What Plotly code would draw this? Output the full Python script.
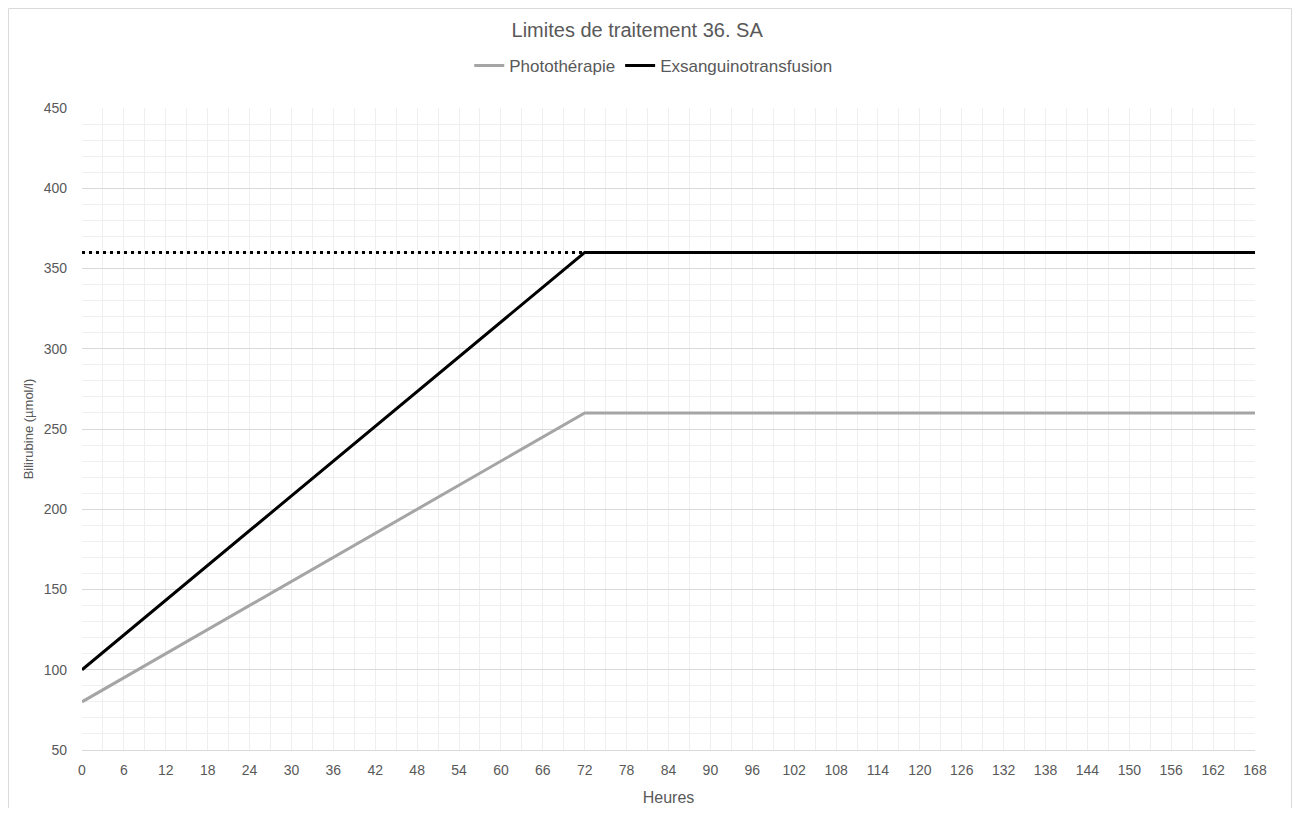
import plotly.graph_objects as go

# Seuils de traitement (36 SA)
heures = [0, 72, 168]
phototherapie = [80, 260, 260]
exsanguino = [100, 360, 360]

# prolongation pointillée du plateau d'exsanguinotransfusion
heures_pointille = [0, 72]
plateau_pointille = [360, 360]

x_ticks = list(range(0, 169, 6))

fig = go.Figure()

fig.add_trace(go.Scatter(
    x=heures_pointille, y=plateau_pointille, mode="lines",
    line=dict(color="black", width=3, dash="3px,4px"),
    showlegend=False, hoverinfo="skip"
))
fig.add_trace(go.Scatter(
    x=heures, y=phototherapie, mode="lines", name="Photothérapie",
    line=dict(color="#a5a5a5", width=3)
))
fig.add_trace(go.Scatter(
    x=heures, y=exsanguino, mode="lines", name="Exsanguinotransfusion",
    line=dict(color="black", width=3)
))

tick_font = dict(family="Liberation Sans", size=14, color="#595959")

fig.update_layout(
    width=1284, height=800,
    paper_bgcolor="white", plot_bgcolor="white",
    margin=dict(l=74, r=37, t=100, b=58),
    font=dict(family="Liberation Sans", color="#595959"),
    title=dict(text="Limites de traitement 36. SA", x=0.49, xanchor="center",
               y=0.9725, yanchor="middle",
               font=dict(size=20, color="#595959")),
    legend=dict(orientation="h", x=0.487, xanchor="center", y=1.0654, yanchor="middle",
                font=dict(size=17, color="#595959"), itemwidth=30,
                bgcolor="rgba(0,0,0,0)"),
    xaxis=dict(
        range=[0, 168], tickvals=x_ticks, ticktext=[str(v) for v in x_ticks],
        tickfont=tick_font, showline=True, linecolor="#d9d9d9", linewidth=1,
        showgrid=True, gridcolor="#efefef", gridwidth=1, zeroline=False,
        minor=dict(dtick=3, tick0=0, showgrid=True, gridcolor="#efefef", gridwidth=1),
        title=dict(text="Heures", font=dict(size=16, color="#595959"), standoff=15),
        ticks="", ticklabelstandoff=7, fixedrange=True, automargin=False
    ),
    yaxis=dict(
        range=[50, 450], dtick=50, tick0=50, tickfont=tick_font,
        showgrid=True, gridcolor="#d9d9d9", gridwidth=1, zeroline=False,
        minor=dict(dtick=10, tick0=50, showgrid=True, gridcolor="#efefef", gridwidth=1),
        title=dict(text="Bilirubine (µmol/l)", font=dict(size=13, color="#595959"), standoff=7),
        ticks="", ticklabelstandoff=14, fixedrange=True, automargin=False
    ),
)

# cadre du graphique
fig.add_shape(type="rect", xref="paper", yref="paper",
              x0=-0.0627, x1=1.0311, y0=-0.2, y1=1.155,
              line=dict(color="#d9d9d9", width=1), fillcolor="rgba(0,0,0,0)",
              layer="below")

fig.write_html("out.html")
